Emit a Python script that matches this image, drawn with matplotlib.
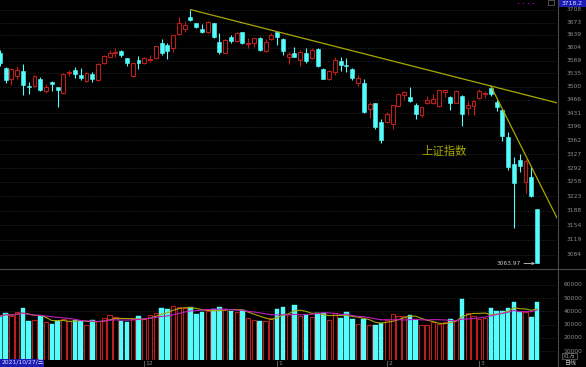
import matplotlib
matplotlib.use('Agg')
import matplotlib.pyplot as plt
import matplotlib.transforms as mtransforms
from matplotlib.patches import Rectangle
import numpy as np
import pandas as pd

# ---------------- data ----------------
open_ = [3590.6, 3548.7, 3519.5, 3528.2, 3542.3, 3500.5, 3503.0, 3520.3, 3489.1, 3512.0,
         3498.3, 3484.1, 3535.3, 3544.2, 3530.9, 3515.7, 3532.8, 3517.6, 3562.1, 3579.8,
         3590.3, 3595.2, 3575.5, 3528.2, 3570.9, 3562.1, 3571.0, 3575.5, 3615.9, 3611.4,
         3604.0, 3640.6, 3654.0, 3687.3, 3670.9, 3655.2, 3647.8, 3670.9, 3620.5, 3590.6,
         3634.1, 3621.5, 3646.1, 3613.5, 3617.7, 3630.5, 3596.0, 3627.0, 3646.5, 3628.9,
         3579.8, 3590.6, 3570.9, 3590.6, 3575.5, 3600.6, 3546.0, 3520.3, 3539.7, 3569.0,
         3558.5, 3546.9, 3508.9, 3508.9, 3441.6, 3456.4, 3407.4, 3407.4, 3403.0, 3450.2,
         3478.1, 3472.1, 3452.0, 3426.1, 3456.4, 3456.4, 3450.2, 3486.8, 3473.6, 3458.0,
         3475.5, 3443.4, 3450.2, 3469.4, 3479.9, 3495.7, 3460.6, 3439.0, 3370.7, 3302.2,
         3312.1, 3257.0, 3270.7, 3191.5]
high = [3598.0, 3553.0, 3550.0, 3554.8, 3560.2, 3513.1, 3530.0, 3525.0, 3506.2, 3516.0,
        3500.0, 3535.0, 3544.2, 3551.4, 3548.7, 3540.0, 3539.7, 3562.0, 3584.4, 3597.9,
        3602.4, 3598.0, 3577.0, 3564.0, 3582.5, 3579.0, 3584.4, 3609.0, 3627.0, 3617.6,
        3640.0, 3687.3, 3678.0, 3708.9, 3672.5, 3669.0, 3677.0, 3673.0, 3643.3, 3627.0,
        3638.7, 3646.0, 3648.0, 3631.6, 3631.6, 3632.0, 3627.0, 3643.3, 3649.0, 3630.0,
        3593.3, 3606.8, 3597.0, 3602.4, 3602.0, 3602.0, 3548.7, 3544.0, 3578.2, 3579.8,
        3575.5, 3548.7, 3530.9, 3519.5, 3460.6, 3458.0, 3415.1, 3434.6, 3453.0, 3484.1,
        3488.6, 3500.0, 3458.0, 3447.6, 3474.2, 3480.7, 3492.0, 3492.0, 3476.0, 3492.0,
        3478.0, 3463.2, 3464.0, 3493.0, 3488.6, 3501.7, 3465.0, 3440.8, 3383.4, 3319.3,
        3326.3, 3314.0, 3295.5, 3193.0]
low = [3556.0, 3510.5, 3504.4, 3520.3, 3478.1, 3480.7, 3500.0, 3489.0, 3484.0, 3489.0,
       3447.6, 3482.0, 3528.2, 3522.0, 3517.6, 3513.1, 3511.5, 3515.0, 3560.0, 3578.0,
       3578.0, 3579.0, 3555.6, 3526.4, 3546.0, 3560.0, 3566.4, 3573.0, 3584.4, 3572.8,
       3593.3, 3638.0, 3648.0, 3677.0, 3657.0, 3645.0, 3645.0, 3630.0, 3588.0, 3589.0,
       3618.0, 3619.0, 3613.0, 3602.4, 3606.8, 3595.0, 3593.3, 3625.1, 3611.4, 3584.4,
       3560.2, 3578.0, 3555.6, 3562.1, 3573.0, 3553.0, 3519.5, 3518.0, 3530.9, 3542.0,
       3539.7, 3517.6, 3501.7, 3432.0, 3417.6, 3390.0, 3355.5, 3404.8, 3390.3, 3447.6,
       3465.0, 3460.6, 3415.8, 3421.8, 3454.6, 3454.0, 3448.0, 3473.6, 3439.0, 3456.0,
       3398.7, 3426.1, 3426.1, 3466.8, 3469.4, 3475.5, 3435.4, 3359.8, 3287.3, 3146.1,
       3283.1, 3230.1, 3220.0, 3063.97]
close = [3562.3, 3518.4, 3547.3, 3544.5, 3505.6, 3498.5, 3526.9, 3491.6, 3498.6, 3507.0,
         3492.5, 3532.8, 3539.1, 3533.3, 3521.8, 3537.4, 3520.7, 3560.4, 3582.1, 3589.1,
         3592.7, 3584.2, 3564.1, 3562.7, 3563.9, 3576.9, 3573.8, 3607.4, 3589.3, 3595.1,
         3637.6, 3673.0, 3666.4, 3681.1, 3661.5, 3647.6, 3675.0, 3632.4, 3593.6, 3625.1,
         3622.6, 3643.3, 3618.1, 3616.0, 3630.1, 3597.0, 3619.2, 3639.8, 3632.3, 3595.2,
         3586.1, 3579.5, 3593.5, 3567.4, 3597.4, 3555.3, 3521.3, 3541.7, 3569.9, 3558.2,
         3555.1, 3522.6, 3524.1, 3433.1, 3455.7, 3394.3, 3361.4, 3429.6, 3452.6, 3480.0,
         3485.9, 3463.0, 3428.9, 3446.1, 3465.8, 3468.0, 3490.8, 3490.6, 3457.2, 3489.2,
         3430.0, 3451.4, 3462.3, 3488.8, 3484.2, 3481.1, 3447.7, 3372.9, 3293.5, 3256.4,
         3296.1, 3309.8, 3223.5, 3063.97]
volume = [36200, 38700, 36700, 39500, 42500, 32500, 33700, 36200, 32000, 30700,
          32500, 34200, 32500, 33200, 32900, 29500, 33200, 32500, 35000, 37400,
          35500, 32900, 32000, 34400, 36500, 34400, 37000, 38900, 42500, 41500,
          44000, 43000, 42500, 43200, 38000, 39200, 40000, 41700, 43200, 41200,
          40500, 39500, 40800, 35000, 33700, 32500, 32900, 35000, 41700, 43200,
          38000, 44500, 36700, 37400, 35700, 38700, 38700, 33200, 38700, 35000,
          39500, 34400, 30500, 34400, 29500, 29900, 31200, 33700, 38000, 36200,
          36700, 37400, 33200, 29500, 29500, 32000, 30700, 31700, 34200, 33700,
          49200, 38700, 36200, 34400, 35000, 42500, 40500, 40500, 42500, 47200,
          39200, 39500, 35500, 47000]

price_ticks = [3084, 3119, 3154, 3188, 3223, 3258, 3292, 3327, 3362, 3396,
               3431, 3466, 3500, 3535, 3569, 3604, 3639, 3673, 3708]
vol_ticks = [10000, 20000, 30000, 40000, 50000, 60000]
month_idx = [25, 48, 67, 83]
month_labels = ['12', '1', '2', '3']
start_label = '2021/10/27/三'
index_name = '上证指数'
top_value = '3718.2'
low_text = '3063.97'
trend1 = (33, 85)   # line through these two highs
trend2 = (85, 92)

# ---------------- figure ----------------
W, H = 586, 367
BG = '#000000'
CY = '#54fcfc'
RD = '#bc1e1e'
GRID = '#363636'
TXT = '#8c8c8c'
YEL = '#a8a800'

fig = plt.figure(figsize=(W / 100, H / 100), dpi=100, facecolor=BG)


def fx(px):
    return px / W


def fy(py):
    return 1 - py / H


ax = fig.add_axes([0, fy(268), fx(557), 268 / H])
axv = fig.add_axes([0, fy(360), fx(557), 91 / H])
for a in (ax, axv):
    a.set_facecolor(BG)
    for s in a.spines.values():
        s.set_visible(False)
    a.set_xticks([])
    a.tick_params(left=False, right=False, bottom=False, labelleft=False, labelbottom=False)

o = np.array(open_)
h = np.array(high)
l = np.array(low)
c = np.array(close)
v = np.array(volume)
n = len(c)
x = np.arange(n)
up = c >= o
dn = ~up

XL, XR = 0.03, 96.45
ax.set_yscale('log')
ax.minorticks_off()
ax.set_yticks([])
ax.set_xlim(XL, XR)
ax.set_ylim(3053.6, 3735.8)

# grid
for t in price_ticks:
    ax.axhline(t, color=GRID, lw=0.6, ls=(0, (1, 2)), zorder=0)

# candles
ax.vlines(x[dn], l[dn], h[dn], color=CY, lw=0.8, zorder=1)
ax.vlines(x[up], l[up], h[up], color=RD, lw=0.8, zorder=1)
bot = np.minimum(o, c)
hgt = np.abs(c - o)
ax.bar(x[dn], hgt[dn], bottom=bot[dn], width=0.68, color=CY, edgecolor=CY, lw=0.4, zorder=2)
ax.bar(x[up], hgt[up], bottom=bot[up], width=0.68, facecolor=BG, edgecolor=RD, lw=0.8, zorder=2)

# trend lines (straight in log-price space), extended to right edge
for i0, i1 in (trend1, trend2):
    lp0, lp1 = np.log(h[i0]), np.log(h[i1])
    slope = (lp1 - lp0) / (i1 - i0)
    xe = np.array([i0, XR])
    ax.plot(xe, np.exp(lp0 + slope * (xe - i0)), color=YEL, lw=0.9, zorder=3)

# low label
ax.annotate(low_text, xy=(n - 1 - 0.35, l[-1]), xytext=(-10, 0), textcoords='offset points',
            ha='right', va='center', fontsize=4.2, color='#c8c8c8',
            arrowprops=dict(arrowstyle='->', color='#c8c8c8', lw=0.6, shrinkA=0, shrinkB=0,
                            mutation_scale=4))

# price axis labels
tr = mtransforms.blended_transform_factory(fig.transFigure, ax.transData)
for t in price_ticks:
    ax.text(fx(582), t, str(t), transform=tr, ha='right', va='center', fontsize=4.3,
            color=TXT, clip_on=False)

# index name
fig.text(fx(444.5), fy(151), index_name, ha='center', va='center', fontsize=8.2,
         color=YEL, family=['Noto Sans CJK SC', 'DejaVu Sans'])

# ---------------- volume panel ----------------
axv.set_xlim(XL, XR)
axv.set_ylim(3400, 71800)
for t in vol_ticks:
    axv.axhline(t, color=GRID, lw=0.6, ls=(0, (1, 2)), zorder=0)
axv.bar(x[dn], v[dn], width=0.8, color=CY, edgecolor=CY, lw=0.3, zorder=2)
axv.bar(x[up], v[up], width=0.74, facecolor=BG, edgecolor=RD, lw=0.8, zorder=2)
ma5 = pd.Series(v).rolling(5, min_periods=1).mean()
ma10 = pd.Series(v).rolling(10, min_periods=1).mean()
axv.plot(x, ma5, color=YEL, lw=0.8, zorder=3)
axv.plot(x, ma10, color='#c020c0', lw=0.8, zorder=3)
trv = mtransforms.blended_transform_factory(fig.transFigure, axv.transData)
for t in vol_ticks:
    axv.text(fx(582), t, str(t), transform=trv, ha='right', va='center', fontsize=4.3,
             color=TXT, clip_on=False)

# ---------------- frame lines & decorations ----------------
fig.add_artist(plt.Line2D([fx(557.5), fx(557.5)], [fy(0), fy(367)], color='#4a4a4a', lw=0.8))
fig.add_artist(plt.Line2D([0, 1], [fy(268.5), fy(268.5)], color='#4a4a4a', lw=0.8))

# top-right value box
fig.add_artist(Rectangle((fx(558), fy(7)), fx(28), 7 / H, facecolor='#1c1cb4', edgecolor='none'))
fig.text(fx(572), fy(3.6), top_value, ha='center', va='center', fontsize=4.3, color='#e0e0ff')
for px in (518.5, 523.5, 528.5, 533.5):
    fig.add_artist(Rectangle((fx(px - 0.8), fy(4.3)), fx(1.6), 1.6 / H,
                             facecolor='#c000c0', edgecolor='none'))
fig.add_artist(Rectangle((fx(548), fy(4.5)), fx(6), 4 / H, facecolor='none',
                         edgecolor='#707070', lw=0.5))

# bottom strip
fig.add_artist(Rectangle((0, fy(367)), fx(44), 8.5 / H, facecolor='#1c1cb4', edgecolor='none'))
fig.text(fx(1.5), fy(363), start_label, ha='left', va='center', fontsize=4.3,
         color='#e0e0ff', family=['DejaVu Sans', 'Noto Sans CJK SC'])
px_per = 557 / (XR - XL)
for i, lab in zip(month_idx, month_labels):
    xp = (i - XL) * px_per
    fig.add_artist(plt.Line2D([fx(xp), fx(xp)], [fy(360.5), fy(366)], color='#707070', lw=0.6))
    fig.text(fx(xp + 1.5), fy(363.5), lab, ha='left', va='center', fontsize=4.3, color=TXT)
fig.text(fx(569.5), fy(356), 'X1万', ha='center', va='center', fontsize=4.0, color=TXT,
         family=['DejaVu Sans', 'Noto Sans CJK SC'],
         bbox=dict(boxstyle='square,pad=0.15', facecolor=BG, edgecolor='#707070', lw=0.5))
fig.text(fx(570.5), fy(363.5), '日线', ha='center', va='center', fontsize=4.3, color='#c8c8c8',
         family=['Noto Sans CJK SC', 'DejaVu Sans'])

fig.savefig('out.png', dpi=100, facecolor=BG)
